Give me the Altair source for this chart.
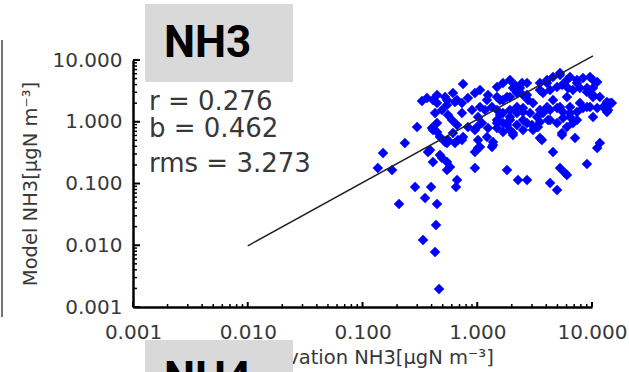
import altair as alt
import pandas as pd

# Observation vs model NH3 (ugN m-3)
obs = [0.151, 0.136, 0.181, 0.234, 0.299, 0.287, 0.396, 0.351, 0.208, 0.446,
       0.437, 0.337, 0.429, 0.465, 0.667, 0.653, 0.955, 1.816, 2.265, 2.715,
       4.31, 4.96, 5.26, 6.05, 9.04, 11.7, 11.1, 4.57, 7.11, 5.48,
       3.52, 3.32, 2.047, 1.371, 1.016, 0.545, 0.579, 0.411, 0.493, 0.545,
       0.372, 0.388, 0.545, 0.679, 0.752, 0.411, 0.446, 0.752, 0.330, 0.365,
       1.057, 5.82, 0.473, 0.524, 0.473, 0.446, 0.524, 0.614, 0.640, 0.736,
       0.830, 0.955, 1.057, 1.241, 0.446, 0.493, 0.545, 0.556, 0.603, 0.429,
       0.403, 0.446, 0.736, 0.900, 1.016, 1.169, 1.345, 0.830, 0.955, 1.099,
       1.241, 1.016, 1.216, 1.345, 0.556, 0.640, 0.736, 0.995, 1.486, 1.816,
       2.047, 1.578, 1.816, 2.047, 2.455, 2.715, 3.06, 2.218, 2.506, 4.06,
       4.57, 5.26, 6.05, 3.52, 4.06, 4.57, 5.26, 6.05, 6.82, 7.40,
       4.14, 5.59, 6.43, 7.85, 9.04, 10.2, 10.2, 9.04, 12.5, 14.4,
       13.5, 6.82, 6.05, 10.2, 1.216, 1.057, 1.578, 1.928, 2.715, 3.06,
       0.545, 0.667, 0.411, 0.667, 0.614, 1.486, 1.676, 1.928, 2.133, 2.358,
       2.715, 1.486, 1.676, 1.928, 2.218, 2.506, 2.769, 3.52, 4.06, 5.26,
       6.43, 7.40, 8.35, 9.61, 11.1, 10.2, 3.74, 4.31, 4.96, 5.48,
       6.18, 7.85, 9.04, 10.2, 11.7, 13.5, 14.9, 13.8, 11.1, 1.486,
       1.676, 1.928, 2.218, 2.506, 2.884, 3.32, 3.74, 4.31, 4.96, 5.59,
       6.43, 7.40, 8.35, 9.61, 1.486, 1.676, 1.928, 2.218, 2.506, 3.0,
       3.52, 4.31, 4.96, 6.43, 7.40, 1.486, 1.676, 1.928, 2.506, 3.38,
       5.48, 3.66, 1.371, 0.955, 3.52]

model = [0.312, 0.178, 0.166, 0.453, 0.822, 0.0878, 0.0878, 0.0582, 0.0466, 0.0466,
         0.0213, 0.0122, 0.00778, 0.00195, 0.114, 0.0878, 0.178, 0.166, 0.114, 0.114,
         0.102, 0.0785, 0.178, 0.137, 0.207, 0.453, 0.376, 0.324, 0.546, 0.610,
         0.546, 0.822, 0.610, 0.420, 0.376, 0.223, 0.185, 0.223, 0.259, 0.166,
         0.324, 0.349, 0.453, 0.506, 0.566, 0.735, 0.955, 4.09, 2.17, 2.42,
         0.390, 0.148, 0.290, 0.470, 0.566, 2.71, 2.52, 2.92, 2.09, 2.01,
         2.42, 2.92, 3.27, 2.71, 2.01, 1.55, 1.87, 1.29, 1.07, 1.39,
         0.792, 0.682, 1.39, 1.55, 1.19, 1.55, 1.73, 0.822, 0.735, 0.955,
         0.792, 0.506, 0.566, 0.390, 0.506, 0.453, 0.506, 0.822, 0.955, 0.886,
         0.658, 2.25, 2.52, 3.52, 4.24, 2.71, 2.01, 1.73, 1.44, 4.24,
         5.31, 6.16, 4.74, 1.55, 1.73, 2.25, 1.73, 2.52, 3.27, 4.24,
         1.07, 1.15, 1.39, 2.01, 1.73, 2.52, 4.74, 3.52, 1.73, 2.01,
         1.44, 0.955, 0.822, 1.19, 2.25, 1.73, 1.29, 1.19, 0.955, 0.735,
         2.25, 2.25, 2.25, 0.886, 0.658, 3.65, 4.24, 4.74, 3.94, 3.52,
         4.24, 2.52, 2.25, 2.52, 2.92, 2.71, 2.25, 4.24, 4.74, 5.72,
         5.31, 4.74, 5.11, 5.31, 4.40, 3.52, 2.92, 3.27, 3.65, 3.94,
         3.52, 3.52, 3.03, 2.71, 2.52, 2.09, 2.01, 1.55, 1.67, 1.55,
         1.39, 1.55, 1.39, 1.67, 1.39, 1.19, 1.39, 1.55, 1.67, 1.44,
         1.73, 1.44, 1.67, 1.73, 1.07, 0.955, 1.07, 0.886, 1.07, 0.886,
         0.99, 1.07, 0.955, 1.19, 1.07, 0.792, 0.682, 0.735, 0.735, 0.822,
         0.658, 0.506, 0.470, 0.324, 3.27]

# fitted line end points
line_obs = [0.010, 10.2]
line_model = [0.0098, 11.7]

tick_values = [0.001, 0.01, 0.1, 1, 10]
minor_values = [m * 10.0 ** e for e in range(-3, 1) for m in range(2, 10)]

stats_labels = ["r = 0.276", "b = 0.462", "rms = 3.273"]
panel_labels = ["NH3", "NH4"]

W, H = 459, 247
FONT = "DejaVu Sans"
TXT = "#383838"

pts = pd.DataFrame({"obs": obs, "model": model})
lin = pd.DataFrame({"obs": line_obs, "model": line_model})
maj = pd.DataFrame({"obs": tick_values, "model": tick_values})
mnr = pd.DataFrame({"obs": minor_values, "model": minor_values})
one = pd.DataFrame({"k": [0]})

xs = alt.Scale(type="log", domain=[0.001, 10], nice=False)
ys = alt.Scale(type="log", domain=[0.001, 10], nice=False)

xaxis = alt.Axis(values=tick_values, format=".3f", labelFont=FONT, labelFontSize=20,
                 labelColor=TXT, labelPadding=15, ticks=False, domainColor="black",
                 domainWidth=2.5, grid=False, labelFlush=False, labelOverlap=False,
                 title="Observation NH3[µgN m⁻³]", titleFont=FONT, titleFontSize=19.5,
                 titleFontWeight="normal", titleColor=TXT, titleX=228, titleY=50,
                 titleAlign="center", titleBaseline="middle")
yaxis = alt.Axis(values=tick_values, format=".3f", labelFont=FONT, labelFontSize=20,
                 labelColor=TXT, labelPadding=11, ticks=False, domainColor="black",
                 domainWidth=2.5, grid=False, labelFlush=False, labelOverlap=False,
                 title="Model NH3[µgN m⁻³]", titleFont=FONT, titleFontSize=19.5,
                 titleFontWeight="normal", titleColor=TXT, titleX=-103, titleY=H / 2,
                 titleAngle=270, titleAlign="center", titleBaseline="middle")

X = alt.X("obs:Q", scale=xs, axis=xaxis)
Y = alt.Y("model:Q", scale=ys, axis=yaxis)

box_top = alt.Chart(one).mark_rect(color="#d9d9d9").encode(
    x=alt.value(12), x2=alt.value(160), y=alt.value(-56), y2=alt.value(22))
box_bot = alt.Chart(one).mark_rect(color="#d9d9d9").encode(
    x=alt.value(12), x2=alt.value(160), y=alt.value(280), y2=alt.value(330))

lab_top = alt.Chart(one).mark_text(font="Roboto", fontWeight="bold", fontSize=44,
                                   align="left", baseline="alphabetic", color="black").encode(
    x=alt.value(31), y=alt.value(-3), text=alt.value(panel_labels[0]))
lab_bot = alt.Chart(one).mark_text(font="Roboto", fontWeight="bold", fontSize=44,
                                   align="left", baseline="alphabetic", color="black").encode(
    x=alt.value(31), y=alt.value(333), text=alt.value(panel_labels[1]))

points = alt.Chart(pts).mark_point(shape="diamond", filled=True, size=110, opacity=1,
                                   color="#0000ff", clip=False).encode(x=X, y=Y)

fit = alt.Chart(lin).mark_line(color="#222222", strokeWidth=1.5).encode(x=X, y=Y)

y_major = alt.Chart(maj).mark_rule(color="black", strokeWidth=2).encode(
    y=Y, x=alt.value(0), x2=alt.value(7))
y_minor = alt.Chart(mnr).mark_rule(color="black", strokeWidth=1.5).encode(
    y=Y, x=alt.value(0), x2=alt.value(4))
x_major = alt.Chart(maj).mark_rule(color="black", strokeWidth=2).encode(
    x=X, y=alt.value(H), y2=alt.value(H - 5))
x_minor = alt.Chart(mnr).mark_rule(color="black", strokeWidth=1.5).encode(
    x=X, y=alt.value(H), y2=alt.value(H - 3))

stats_layers = []
for lab, yy in zip(stats_labels, [50, 77, 112]):
    stats_layers.append(
        alt.Chart(one).mark_text(font=FONT, fontSize=26, align="left",
                                 baseline="alphabetic", color=TXT).encode(
            x=alt.value(16), y=alt.value(yy), text=alt.value(lab)))

edge = alt.Chart(one).mark_rule(color="#444444", strokeWidth=1.5).encode(
    x=alt.value(-131), y=alt.value(-20), y2=alt.value(257))

chart = alt.layer(
    points, fit, y_major, y_minor, x_major, x_minor, box_top, lab_top,
    *stats_layers, edge, box_bot, lab_bot
).properties(
    width=W, height=H,
    autosize=alt.AutoSizeParams(type="none"),
    padding={"left": 133, "top": 60, "right": 37, "bottom": 65},
    background="white",
).configure_view(stroke=None)

chart.save("out.html", embed_options={"renderer": "svg", "actions": False})
